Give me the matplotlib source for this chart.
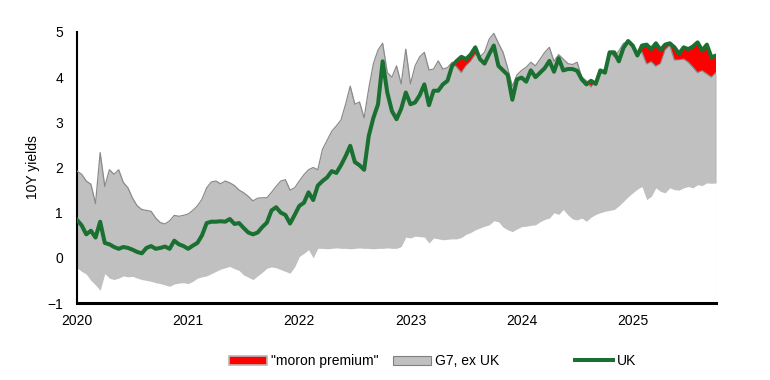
import numpy as np
import matplotlib
matplotlib.use('Agg')
import matplotlib.pyplot as plt
from matplotlib.patches import Patch
from matplotlib.lines import Line2D

plt.rcParams['font.family'] = ['Liberation Sans', 'DejaVu Sans']
plt.rcParams['font.size'] = 10

# half-monthly observations, Jan 2020 -> Oct 2025
dates = 2020 + np.arange(139) / 24

g7_max = [
    1.92, 1.85, 1.70, 1.63, 1.20, 2.33, 1.58, 1.95, 1.85, 1.95, 1.67, 1.55,
    1.32, 1.15, 1.07, 1.05, 1.03, 0.88, 0.78, 0.75, 0.82, 0.94, 0.92, 0.94,
    0.97, 1.05, 1.15, 1.30, 1.55, 1.68, 1.70, 1.64, 1.70, 1.66, 1.60, 1.50,
    1.44, 1.36, 1.26, 1.32, 1.33, 1.33, 1.45, 1.58, 1.70, 1.73, 1.50, 1.55,
    1.70, 1.84, 1.95, 2.00, 1.95, 2.40, 2.60, 2.80, 2.92, 3.05, 3.40, 3.80,
    3.40, 3.45, 3.10, 3.75, 4.30, 4.60, 4.75, 4.10, 4.00, 4.25, 3.85, 4.62,
    3.85, 4.25, 4.45, 4.55, 4.16, 4.18, 4.36, 4.18, 4.21, 4.33, 4.22, 4.10,
    4.25, 4.35, 4.50, 4.45, 4.55, 4.84, 4.97, 4.75, 4.55, 4.20, 3.80, 4.05,
    4.15, 4.22, 4.33, 4.25, 4.40, 4.55, 4.66, 4.35, 4.50, 4.40, 4.30, 4.28,
    4.33, 4.00, 3.92, 3.78, 3.90, 4.05, 4.20, 4.55, 4.45, 4.58, 4.75, 4.78,
    4.65, 4.48, 4.55, 4.29, 4.34, 4.24, 4.30, 4.60, 4.70, 4.38, 4.38, 4.40,
    4.33, 4.22, 4.10, 4.14, 4.07, 4.00, 4.10,
]

g7_min = [
    -0.22, -0.30, -0.36, -0.50, -0.60, -0.72, -0.35, -0.45, -0.48, -0.45, -0.40, -0.42,
    -0.41, -0.45, -0.48, -0.50, -0.52, -0.55, -0.57, -0.60, -0.63, -0.58, -0.56, -0.55,
    -0.57, -0.52, -0.45, -0.42, -0.40, -0.35, -0.30, -0.25, -0.22, -0.19, -0.24, -0.28,
    -0.38, -0.43, -0.48, -0.40, -0.32, -0.23, -0.20, -0.22, -0.26, -0.30, -0.34, -0.20,
    0.03, 0.10, 0.18, 0.00, 0.21, 0.21, 0.20, 0.21, 0.22, 0.21, 0.21, 0.20,
    0.21, 0.22, 0.21, 0.21, 0.20, 0.21, 0.21, 0.22, 0.21, 0.21, 0.25, 0.46,
    0.44, 0.48, 0.47, 0.46, 0.33, 0.44, 0.42, 0.40, 0.41, 0.42, 0.42, 0.45,
    0.52, 0.56, 0.62, 0.66, 0.70, 0.73, 0.82, 0.80, 0.68, 0.62, 0.58, 0.64,
    0.69, 0.70, 0.72, 0.73, 0.80, 0.85, 0.88, 1.00, 0.96, 1.07, 0.95, 0.86,
    0.84, 0.88, 0.81, 0.90, 0.96, 1.00, 1.03, 1.05, 1.07, 1.15, 1.25, 1.35,
    1.44, 1.52, 1.58, 1.29, 1.36, 1.55, 1.47, 1.44, 1.55, 1.51, 1.50, 1.55,
    1.58, 1.55, 1.62, 1.60, 1.66, 1.65, 1.66,
]

uk = [
    0.84, 0.72, 0.52, 0.60, 0.45, 0.80, 0.33, 0.30, 0.24, 0.20, 0.24, 0.22,
    0.18, 0.13, 0.10, 0.22, 0.26, 0.20, 0.22, 0.25, 0.20, 0.38, 0.30, 0.26,
    0.20, 0.27, 0.33, 0.50, 0.77, 0.80, 0.80, 0.81, 0.80, 0.86, 0.75, 0.77,
    0.66, 0.56, 0.52, 0.56, 0.68, 0.78, 1.05, 1.12, 1.00, 0.95, 0.76, 0.95,
    1.15, 1.22, 1.45, 1.28, 1.60, 1.70, 1.78, 1.92, 1.88, 2.05, 2.25, 2.48,
    2.12, 2.05, 1.95, 2.70, 3.10, 3.40, 4.35, 3.66, 3.25, 3.07, 3.30, 3.66,
    3.40, 3.44, 3.60, 3.84, 3.38, 3.70, 3.70, 3.84, 3.92, 4.25, 4.36, 4.45,
    4.40, 4.50, 4.66, 4.40, 4.30, 4.51, 4.70, 4.25, 4.15, 4.05, 3.50, 3.95,
    3.99, 3.90, 4.15, 4.00, 4.10, 4.20, 4.36, 4.12, 4.42, 4.15, 4.18, 4.18,
    4.14, 3.95, 3.84, 3.92, 3.85, 4.15, 4.10, 4.55, 4.55, 4.35, 4.65, 4.80,
    4.70, 4.48, 4.70, 4.72, 4.62, 4.75, 4.60, 4.72, 4.75, 4.66, 4.52, 4.66,
    4.62, 4.68, 4.77, 4.59, 4.72, 4.44, 4.48,
]

year_ticks = [2020, 2021, 2022, 2023, 2024, 2025]

g7_max = np.array(g7_max)
g7_min = np.array(g7_min)
uk = np.array(uk)

fig = plt.figure(figsize=(7.7, 3.8), dpi=100)
ax = fig.add_axes([0.1, 0.2026, 0.83, 0.7132])

# G7 range band
ax.fill_between(dates, g7_min, g7_max, color='#c0c0c0', lw=0, zorder=1)
# UK above the top of the G7 range
ax.fill_between(dates, g7_max, uk, where=uk > g7_max, interpolate=True,
                color='#ff0000', lw=0, zorder=2)
ax.plot(dates, g7_max, color='#8a8a8a', lw=0.9, zorder=3)
ax.plot([dates[-1], dates[-1]], [g7_min[-1], g7_max[-1]], color='#8a8a8a', lw=0.9, zorder=3)
ax.plot([dates[-1], dates[-1]], [-1, g7_min[-1]], color='#d0d0d0', lw=0.8, zorder=3)
ax.plot(dates, uk, color='#1a7030', lw=2.9, solid_joinstyle='round', zorder=4)

ax.set_xlim(2020, dates[-1])
ax.set_ylim(-1, 5)
ax.set_xticks(year_ticks)
ax.set_xticklabels([str(y) for y in year_ticks])
ax.set_yticks(range(-1, 6))
ax.tick_params(length=0, labelsize=10)
ax.tick_params(axis='y', pad=10)
ax.tick_params(axis='x', pad=8)
ax.set_ylabel('10Y yields', fontsize=10, labelpad=5)

for s in ['top', 'right']:
    ax.spines[s].set_visible(False)
ax.spines['left'].set_linewidth(1.5)
ax.spines['bottom'].set_linewidth(2.2)

# legend entries spread along the bottom
entries = [
    (Patch(facecolor='#ff0000', edgecolor='#b8b8b8', lw=1.2), '"moron premium"', 229),
    (Patch(facecolor='#c0c0c0', edgecolor='#808080', lw=0.8), 'G7, ex UK', 393),
    (Line2D([], [], color='#1a7030', lw=2.9), 'UK', 575),
]
for handle, label, xpix in entries:
    fig.legend([handle], [label], loc='center left',
               bbox_to_anchor=(xpix / 770, 1 - 361 / 380),
               frameon=False, fontsize=10, handlelength=2.7, handleheight=0.6,
               handletextpad=0.3, borderpad=0, borderaxespad=0)

fig.savefig('out.png', dpi=100)
